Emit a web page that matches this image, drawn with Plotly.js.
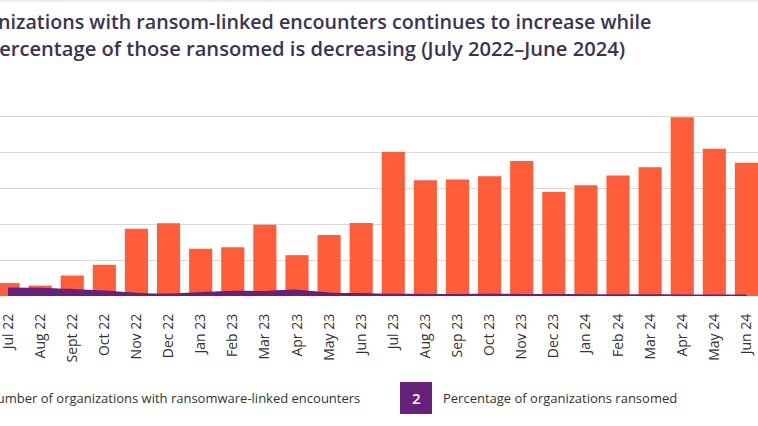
<!DOCTYPE html>
<html>
<head>
<meta charset="utf-8">
<script src="https://cdn.plot.ly/plotly-3.0.1.min.js"></script>
<style>
html,body{margin:0;padding:0;background:#fff;}
#chart{width:758px;height:426px;}
</style>
</head>
<body>
<div id="chart"></div>
<script>
// ---- Data ----
const months = ["Jul 22","Aug 22","Sept 22","Oct 22","Nov 22","Dec 22","Jan 23","Feb 23","Mar 23","Apr 23","May 23","Jun 23",
                "Jul 23","Aug 23","Sep 23","Oct 23","Nov 23","Dec 23","Jan 24","Feb 24","Mar 24","Apr 24","May 24","Jun 24"];
// Number of organizations with ransomware-linked encounters (relative units; axis labels are cropped in the reference)
const orgCounts = [36, 29, 57, 87, 188, 203, 132, 136, 199, 114, 170, 204,
                   402, 323, 325, 334, 377, 290, 309, 336, 359, 499, 411, 372];
// Percentage of organizations ransomed
const pctRansomed = [3.6, 3.5, 2.9, 2.2, 1.2, 0.8, 1.5, 2.1, 2.0, 2.6, 1.3, 1.0,
                     0.7, 0.6, 0.6, 0.7, 0.6, 0.6, 0.5, 0.5, 0.5, 0.4, 0.4, 0.4];
const seriesNames = ["Number of organizations with ransomware-linked encounters", "Percentage of organizations ransomed"];
const titleLines = ["Number of organizations with ransom-linked encounters continues to increase while",
                    "the percentage of those ransomed is decreasing (July 2022\u2013June 2024)"];

const W = 758, H = 426, T = 80, B = 130;
const PH = H - T - B;
const py = p => (H - B - p) / PH;   // pixel y -> paper y
const px = p => p / W;              // pixel x -> paper x

const orange = "#FF5C39";
const purple = "#68217A";
const titleColor = "#3B3356";

const traces = [
  {
    type: "bar", x: months, y: orgCounts, name: seriesNames[0],
    marker: {color: orange}, yaxis: "y", hoverinfo: "x+y"
  },
  {
    type: "scatter", mode: "lines", x: months, y: pctRansomed, name: seriesNames[1],
    fill: "tozeroy", fillcolor: purple, line: {color: purple, width: 1.5, shape: "spline", smoothing: 0.6},
    yaxis: "y2"
  }
];

const layout = {
  width: W, height: H,
  margin: {l: 0, r: 0, t: T, b: B, pad: 0},
  paper_bgcolor: "#fff", plot_bgcolor: "#fff",
  showlegend: false,
  bargap: 0.28,
  font: {family: "Open Sans, sans-serif", color: "#333"},
  xaxis: {
    type: "category", range: [-0.25, 23.36],
    tickangle: -90, tickfont: {size: 14, color: "#333", family: "Open Sans, sans-serif"},
    ticks: "", ticklabelstandoff: 14,
    showgrid: false, showline: false, zeroline: false, fixedrange: true
  },
  yaxis: {
    range: [0, 602.8], dtick: 100, showticklabels: false,
    showgrid: true, gridcolor: "#D9D9D9", gridwidth: 1,
    zeroline: false, showline: false, ticks: ""
  },
  yaxis2: {
    overlaying: "y", range: [0, 100], showticklabels: false,
    showgrid: false, zeroline: false, showline: false
  },
  shapes: [
    {type: "rect", xref: "paper", yref: "paper", x0: px(400), x1: px(432), y0: py(414), y1: py(382),
     fillcolor: purple, line: {width: 0}},
    {type: "rect", xref: "paper", yref: "paper", x0: px(-40), x1: px(-8), y0: py(414), y1: py(382),
     fillcolor: orange, line: {width: 0}},
    {type: "line", xref: "paper", yref: "paper", x0: 0, x1: 1, y0: py(1), y1: py(1),
     line: {color: "#EEEEEE", width: 2}}
  ],
  annotations: [
    {xref: "paper", yref: "paper", x: px(653), y: py(22), xanchor: "right", yanchor: "middle",
     text: titleLines[0], showarrow: false,
     font: {family: "Open Sans, sans-serif", size: 19.7, weight: 600, color: titleColor}},
    {xref: "paper", yref: "paper", x: px(627), y: py(48), xanchor: "right", yanchor: "middle",
     text: titleLines[1], showarrow: false,
     font: {family: "Open Sans, sans-serif", size: 20.15, weight: 600, color: titleColor}},
    {xref: "paper", yref: "paper", x: px(362), y: py(398), xanchor: "right", yanchor: "middle",
     text: seriesNames[0], showarrow: false,
     font: {family: "Open Sans, sans-serif", size: 13, color: "#333"}},
    {xref: "paper", yref: "paper", x: px(416), y: py(398), xanchor: "center", yanchor: "middle",
     text: "2", showarrow: false,
     font: {family: "Open Sans, sans-serif", size: 15, weight: 600, color: "#fff"}},
    {xref: "paper", yref: "paper", x: px(441), y: py(398), xanchor: "left", yanchor: "middle",
     text: seriesNames[1], showarrow: false,
     font: {family: "Open Sans, sans-serif", size: 13, color: "#333"}}
  ]
};

Plotly.newPlot("chart", traces, layout, {displayModeBar: false, staticPlot: true});
</script>
</body>
</html>
